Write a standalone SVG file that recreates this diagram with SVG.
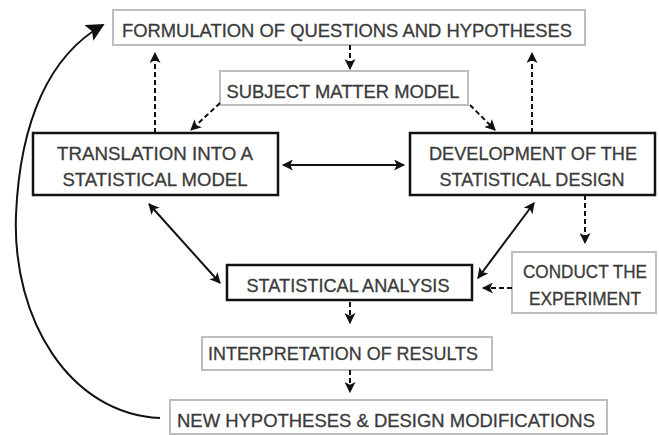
<svg xmlns="http://www.w3.org/2000/svg" width="659" height="435" viewBox="0 0 659 435">
<style>
.t{font-family:"Liberation Sans",Arial,sans-serif;font-size:19px;fill:#3a3a3a;stroke:#3a3a3a;stroke-width:0.3;text-anchor:middle}
.lb{fill:#fff;stroke:#bdbdbd;stroke-width:2}
.bb{fill:#fff;stroke:#111;stroke-width:2.5}
.c{fill:none;stroke:#111;stroke-width:2}
.d{fill:none;stroke:#111;stroke-width:2;stroke-dasharray:5,3}
</style>
<defs>
<marker id="ah" viewBox="0 0 10 10" refX="9" refY="5" markerWidth="5.5" markerHeight="5.5" orient="auto-start-reverse" markerUnits="strokeWidth">
<path d="M0,0 L10,5 L0,10 L2.5,5 z" fill="#111"/>
</marker>
<marker id="big" viewBox="0 0 10 10" refX="9" refY="5" markerWidth="9" markerHeight="9" orient="auto" markerUnits="strokeWidth">
<path d="M0,0 L10,5 L0,10 L2,5 z" fill="#111"/>
</marker>
</defs>
<g id="formulation"><rect class="lb" x="113" y="10" width="472" height="35"/><text class="t" x="347" y="37" textLength="450" lengthAdjust="spacingAndGlyphs">FORMULATION OF QUESTIONS AND HYPOTHESES</text></g>
<g id="subject"><rect class="lb" x="220" y="71" width="248" height="34"/><text class="t" x="343" y="98" textLength="233" lengthAdjust="spacingAndGlyphs">SUBJECT MATTER MODEL</text></g>
<g id="translation"><rect class="bb" x="33" y="133" width="245" height="62"/><text class="t" x="155" y="160" textLength="196" lengthAdjust="spacingAndGlyphs">TRANSLATION INTO A</text><text class="t" x="155" y="186" textLength="185" lengthAdjust="spacingAndGlyphs">STATISTICAL MODEL</text></g>
<g id="development"><rect class="bb" x="410" y="133" width="245" height="62"/><text class="t" x="533" y="160" textLength="208" lengthAdjust="spacingAndGlyphs">DEVELOPMENT OF THE</text><text class="t" x="532" y="186" textLength="185" lengthAdjust="spacingAndGlyphs">STATISTICAL DESIGN</text></g>
<g id="analysis"><rect class="bb" x="227" y="265" width="245" height="35"/><text class="t" x="348" y="292" textLength="203" lengthAdjust="spacingAndGlyphs">STATISTICAL ANALYSIS</text></g>
<g id="conduct"><rect class="lb" x="512" y="252" width="144" height="61"/><text class="t" x="585" y="278" style="font-size:18px" textLength="124" lengthAdjust="spacingAndGlyphs">CONDUCT THE</text><text class="t" x="585" y="305" style="font-size:18px" textLength="112" lengthAdjust="spacingAndGlyphs">EXPERIMENT</text></g>
<g id="interpretation"><rect class="lb" x="202" y="337" width="290" height="33"/><text class="t" x="343" y="360" textLength="270" lengthAdjust="spacingAndGlyphs">INTERPRETATION OF RESULTS</text></g>
<g id="newhyp"><rect class="lb" x="170" y="400" width="437" height="34"/><text class="t" x="386" y="427" textLength="418" lengthAdjust="spacingAndGlyphs">NEW HYPOTHESES &amp; DESIGN MODIFICATIONS</text></g>
<g id="connectors">
<path class="d" d="M350,45 L350,69" marker-end="url(#ah)"/>
<path class="d" d="M155,133 L155,53" marker-end="url(#ah)"/>
<path class="d" d="M532,133 L532,53" marker-end="url(#ah)"/>
<path class="d" d="M220,103 L191,130" marker-end="url(#ah)"/>
<path class="d" d="M470,105 L495,130" marker-end="url(#ah)"/>
<path class="c" d="M283,165 L404,165" marker-start="url(#ah)" marker-end="url(#ah)"/>
<path class="c" d="M149,204 L220,283" marker-start="url(#ah)" marker-end="url(#ah)"/>
<path class="c" d="M534,203 L478,278" marker-start="url(#ah)" marker-end="url(#ah)"/>
<path class="d" d="M585,195 L585,243" marker-end="url(#ah)"/>
<path class="d" d="M512,288 L483,288" marker-end="url(#ah)"/>
<path class="d" d="M350,302 L350,323" marker-end="url(#ah)"/>
<path class="d" d="M350,370 L350,392" marker-end="url(#ah)"/>
<path class="c" d="M160,418 C70,414 12,320 16,215 C20,120 50,55 103,25" marker-end="url(#big)"/>
</g>
</svg>
